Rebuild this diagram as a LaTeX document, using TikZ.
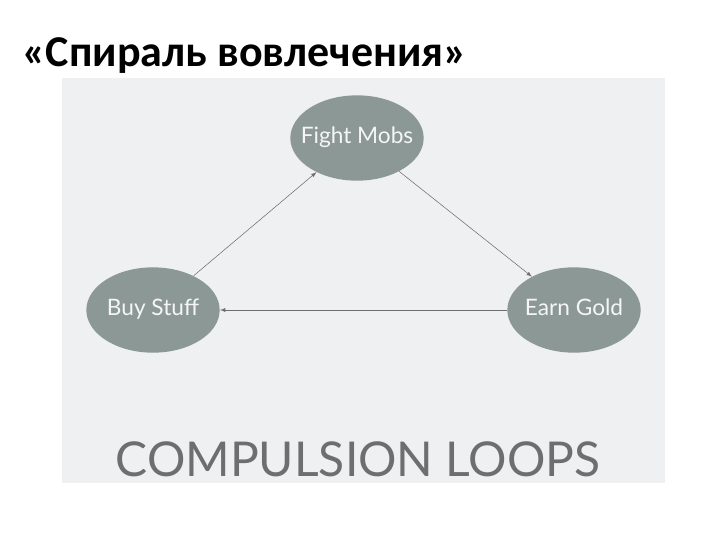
\documentclass[tikz,border=0pt]{standalone}
\usepackage{fontspec}
\setmainfont{Carlito}
\newfontfamily\loopfont{Lato}
\usetikzlibrary{shapes.geometric}
\definecolor{panel}{HTML}{EEF0F1}
\definecolor{blob}{HTML}{8C9896}
\definecolor{edgegray}{HTML}{6E6E6E}
\begin{document}
\begin{tikzpicture}[x=0.75pt, y=-0.75pt]
      \tikzset{blobnode/.style={ellipse, fill=blob, text=white!92!gray, minimum width=100pt, minimum height=64pt, inner xsep=-8pt, inner ysep=0pt, text height=2.1ex, text depth=.3ex, font=\loopfont\fontsize{17}{20}\selectfont}}
      \useasboundingbox (0,0) rectangle (720,540);
%% Background
      \fill[panel] (62,78) rectangle (665,483);
      \node[anchor=base west, inner sep=0pt, font=\bfseries\fontsize{33}{38}\selectfont] (title) at (22,66) {«Спираль вовлечения»};
%% Vertices
      \node[blobnode] (fight) at (357,138) {Fight Mobs};
      \node[blobnode] (buy) at (153,310) {Buy Stuff};
      \node[blobnode] (gold) at (574,310) {Earn Gold};
%Edges
      \path [->, > = latex, edgegray, thin] (fight) edge (gold);
      \path [->, > = latex, edgegray, thin] (gold.west) edge (buy.east);
      \path [->, > = latex, edgegray, thin] (buy) edge (fight);
%% Caption
      \node[anchor=base, inner sep=0pt, text=edgegray, font=\loopfont\fontsize{36}{40}\selectfont] (loops) at (358,476) {COMPULSION LOOPS};
\end{tikzpicture}
\end{document}
